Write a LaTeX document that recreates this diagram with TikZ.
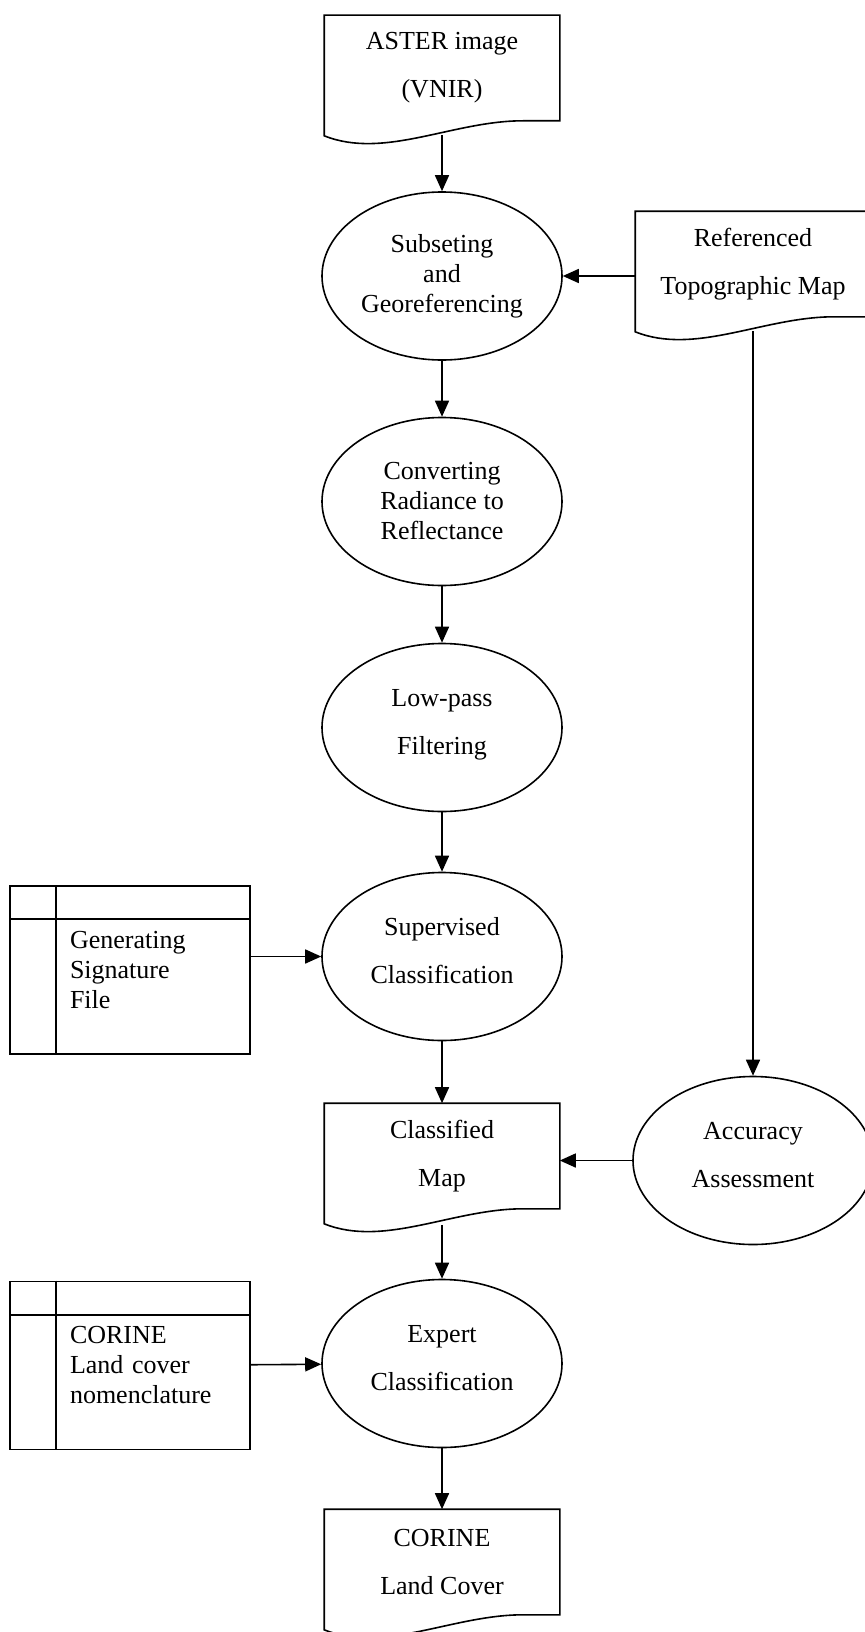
\documentclass[tikz,border=0pt]{standalone}
\usepackage{fontspec}
\setmainfont{Liberation Serif}
\usetikzlibrary{shapes.geometric,arrows.meta}

\begin{document}
\begin{tikzpicture}[x=0.5pt, y=-0.5pt, line width=0.8pt]
            \tikzstyle{every node}=[align=center, inner sep=0pt, font=\fontsize{13}{15}\selectfont, text=black]
            \tikzstyle{wide}=[font=\fontsize{13}{24}\selectfont]
            \tikzstyle{process}=[ellipse, draw=black, minimum width=120pt, minimum height=84pt]
            \tikzstyle{raised}=[wide, text depth=6pt]
            \tikzstyle{doc}=[rectangle, minimum width=117pt, minimum height=52pt]
            \tikzstyle{store}=[rectangle, draw=black, minimum width=120pt, minimum height=84pt, text width=60pt, inner xsep=30pt, align=left]
            \tikzstyle{edge}=[black, -{Triangle[length=8pt,width=7pt]}]

            \useasboundingbox (0,0) rectangle (865,1632);

            \node[doc, wide] (aster) at (442,68) {ASTER image\\(VNIR)};
            \node[process] (georef) at (442,276) {Subseting\\and\\Georeferencing};
            \node[doc, wide] (topo) at (753,264) {Referenced\\Topographic Map};
            \node[process] (reflect) at (442,501.5) {Converting\\Radiance to\\Reflectance};
            \node[process, raised] (filter) at (442,727.5) {Low-pass\\Filtering};
            \node[process, raised] (superv) at (442,956.5) {Supervised\\Classification};
            \node[store] (sig) at (130,970) {Generating\\Signature\\File};
            \node[doc, wide] (classmap) at (442,1156) {Classified\\Map};
            \node[process, raised] (accur) at (753,1160.5) {Accuracy\\Assessment};
            \node[process, raised] (expert) at (442,1363.5) {Expert\\Classification};
            \node[store] (nomen) at (130,1365.5) {CORINE\\Land cover\\nomenclature};
            \node[doc, wide] (landcover) at (442,1562) {CORINE\\Land Cover};

            % document outlines with wavy bottom
            \foreach \d in {aster,topo,classmap,landcover}
                \draw (\d.north west) -- (\d.north east) -- (\d.south east) -- ++(-18.5pt,0)
                    .. controls +(-35pt,0) and +(30pt,-12pt) .. ([yshift=-7.5pt]\d.south west) -- cycle;

            % header row and side column of the stores
            \foreach \s in {sig,nomen} {
                \draw ([yshift=-17pt]\s.north west) -- ([yshift=-17pt]\s.north east);
                \draw ([xshift=23.5pt]\s.north west) -- ([xshift=23.5pt]\s.south west);
            }

            \draw[edge] ([yshift=-7pt]aster.south) -- (georef);
            \draw[edge] (topo.west |- georef.east) -- (georef.east);
            \draw[edge] (georef) -- (reflect);
            \draw[edge] (reflect) -- (filter);
            \draw[edge] (filter) -- (superv);
            \draw[edge] (sig.east |- superv.west) -- (superv.west);
            \draw[edge] (superv) -- (classmap);
            \draw[edge] ([yshift=-7pt]topo.south) -- (accur);
            \draw[edge] (accur.west) -- (accur.west -| classmap.east);
            \draw[edge] ([yshift=-8pt]classmap.south) -- (expert);
            \draw[edge] (nomen) -- (expert);
            \draw[edge] (expert) -- (landcover);
        \end{tikzpicture}
\end{document}
